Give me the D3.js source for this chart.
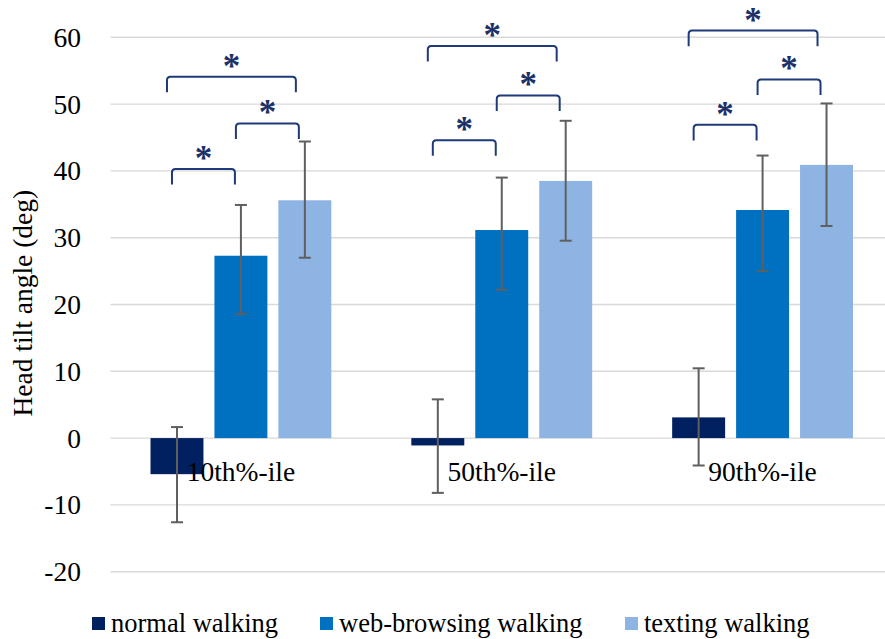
<!DOCTYPE html>
<html>
<head>
<meta charset="utf-8">
<script src="https://cdn.jsdelivr.net/npm/d3@7"></script>
<style>
  html, body { margin: 0; padding: 0; background: #fff; }
  svg { display: block; }
  text { font-family: "Liberation Serif", "Times New Roman", serif; }
</style>
</head>
<body>
<svg id="chart" width="885" height="639"></svg>
<script>
// Percentile groups along the x axis
const categories = ["10th%-ile", "50th%-ile", "90th%-ile"];

// Walking conditions (one bar per condition within each group)
const seriesNames = ["normal walking", "web-browsing walking", "texting walking"];
const seriesColors = ["#002060", "#0070C0", "#8EB4E3"];

// Mean head tilt angle (deg) per condition, one value per percentile group
const normalMean   = [-5.4, -1.1, 3.1];
const webMean      = [27.3, 31.15, 34.15];
const textingMean  = [35.6, 38.5, 40.9];

// Error bar ends (deg)
const normalLow  = [-12.6, -8.2, -4.1];
const normalHigh = [1.65, 5.8, 10.45];
const webLow     = [18.6, 22.2, 25.0];
const webHigh    = [34.9, 39.0, 42.3];
const textingLow  = [27.0, 29.55, 31.75];
const textingHigh = [44.4, 47.5, 50.1];

// Y axis ticks
const yTicks = [-20, -10, 0, 10, 20, 30, 40, 50, 60];

// Significance brackets: [group, from condition, to condition, bracket level in deg]
const brackets = [
  [0, 0, 1, 40.3], [0, 1, 2, 47.1], [0, 0, 2, 54.1],
  [1, 0, 1, 44.6], [1, 1, 2, 51.3], [1, 0, 2, 58.7],
  [2, 0, 1, 46.9], [2, 1, 2, 53.7], [2, 0, 2, 61.0]
];

const means = [normalMean, webMean, textingMean];
const lows = [normalLow, webLow, textingLow];
const highs = [normalHigh, webHigh, textingHigh];

const rows = [];
categories.forEach((c, gi) => {
  seriesNames.forEach((s, si) => {
    rows.push({ cat: c, gi, series: s, si, value: means[si][gi], lo: lows[si][gi], hi: highs[si][gi] });
  });
});

const svg = d3.select("#chart");
const W = 885, H = 639;

const plotLeft = 110.5, plotRight = 893;
const x0 = d3.scaleBand().domain(categories).range([plotLeft, plotRight]).paddingInner(0).paddingOuter(0);
const x1 = d3.scaleBand().domain(seriesNames).range([40, x0.bandwidth() - 40]).paddingInner(11 / 64).paddingOuter(0);
const y = d3.scaleLinear().domain([-20, 60]).range([571.7, 37.3]);
const color = d3.scaleOrdinal().domain(seriesNames).range(seriesColors);

// Horizontal gridlines
svg.append("g")
  .selectAll("line")
  .data(yTicks)
  .join("line")
  .attr("x1", plotLeft)
  .attr("x2", W)
  .attr("y1", d => y(d))
  .attr("y2", d => y(d))
  .attr("stroke", "#d9d9d9")
  .attr("stroke-width", 1.4);

// Y axis tick labels
const yAxis = d3.axisLeft(y).tickValues(yTicks).tickSize(0).tickPadding(0).tickFormat(d3.format("d"));
const yAxisG = svg.append("g").attr("transform", "translate(81,0)").call(yAxis);
yAxisG.select(".domain").remove();
yAxisG.selectAll("text")
  .attr("font-family", "Liberation Serif, Times New Roman, serif")
  .attr("font-size", 27.5)
  .attr("fill", "#000")
  .attr("dy", "0.33em")
  .text(d => String(d).replace("\u2212", "-"));

// Y axis title
svg.append("text")
  .attr("transform", `translate(31.5,${y(20.2)}) rotate(-90)`)
  .attr("text-anchor", "middle")
  .attr("font-size", 27.5)
  .attr("fill", "#000")
  .text("Head tilt angle (deg)");

// Bars
svg.append("g")
  .selectAll("rect")
  .data(rows)
  .join("rect")
  .attr("x", d => x0(d.cat) + x1(d.series))
  .attr("width", x1.bandwidth())
  .attr("y", d => y(Math.max(0, d.value)))
  .attr("height", d => Math.abs(y(d.value) - y(0)))
  .attr("fill", d => color(d.series));

// Category labels, drawn just below the zero line
svg.append("g")
  .selectAll("text")
  .data(categories)
  .join("text")
  .attr("x", d => x0(d) + x0.bandwidth() / 2)
  .attr("y", y(0) + 42.6)
  .attr("text-anchor", "middle")
  .attr("font-size", 27.5)
  .attr("fill", "#000")
  .text(d => d);

// Error bars
const capHalf = 6;
const eb = svg.append("g").attr("stroke", "#5f5f5f").attr("stroke-width", 2).attr("fill", "none");
rows.forEach(d => {
  const cx = x0(d.cat) + x1(d.series) + x1.bandwidth() / 2;
  eb.append("line").attr("x1", cx).attr("x2", cx).attr("y1", y(d.lo)).attr("y2", y(d.hi));
  eb.append("line").attr("x1", cx - capHalf).attr("x2", cx + capHalf).attr("y1", y(d.hi)).attr("y2", y(d.hi));
  eb.append("line").attr("x1", cx - capHalf).attr("x2", cx + capHalf).attr("y1", y(d.lo)).attr("y2", y(d.lo));
});

// Significance brackets with asterisks
const bracketColor = "#1f3a78";
const starColor = "#1b3168";
const legLen = 15.6, r = 3.5;
const starSize = 35;
const bg = svg.append("g");
brackets.forEach(([gi, a, b, level]) => {
  const cat = categories[gi];
  const ca = x0(cat) + x1(seriesNames[a]) + x1.bandwidth() / 2;
  const cb = x0(cat) + x1(seriesNames[b]) + x1.bandwidth() / 2;
  const wide = (b - a) > 1;
  const xl = ca + (wide ? -10 : -5);
  const xr = cb + (wide ? -9 : -6);
  const yt = y(level);
  const yb = yt + legLen;
  const p = d3.path();
  p.moveTo(xl, yb);
  p.lineTo(xl, yt + r);
  p.quadraticCurveTo(xl, yt, xl + r, yt);
  p.lineTo(xr - r, yt);
  p.quadraticCurveTo(xr, yt, xr, yt + r);
  p.lineTo(xr, yb);
  bg.append("path")
    .attr("d", p.toString())
    .attr("fill", "none")
    .attr("stroke", bracketColor)
    .attr("stroke-width", 2);
  bg.append("text")
    .attr("x", (xl + xr) / 2)
    .attr("y", yt - 15.5 + starSize * 0.47)
    .attr("text-anchor", "middle")
    .attr("font-size", starSize)
    .attr("font-weight", "bold")
    .attr("fill", starColor)
    .text("*");
});

// Legend
const legendX = [92, 320, 625];
const lg = svg.append("g");
seriesNames.forEach((s, i) => {
  lg.append("rect")
    .attr("x", legendX[i])
    .attr("y", 617)
    .attr("width", 13)
    .attr("height", 13)
    .attr("fill", color(s));
  lg.append("text")
    .attr("x", legendX[i] + 19)
    .attr("y", 632)
    .attr("font-size", 26.5)
    .attr("fill", "#000")
    .text(s);
});
</script>
</body>
</html>
